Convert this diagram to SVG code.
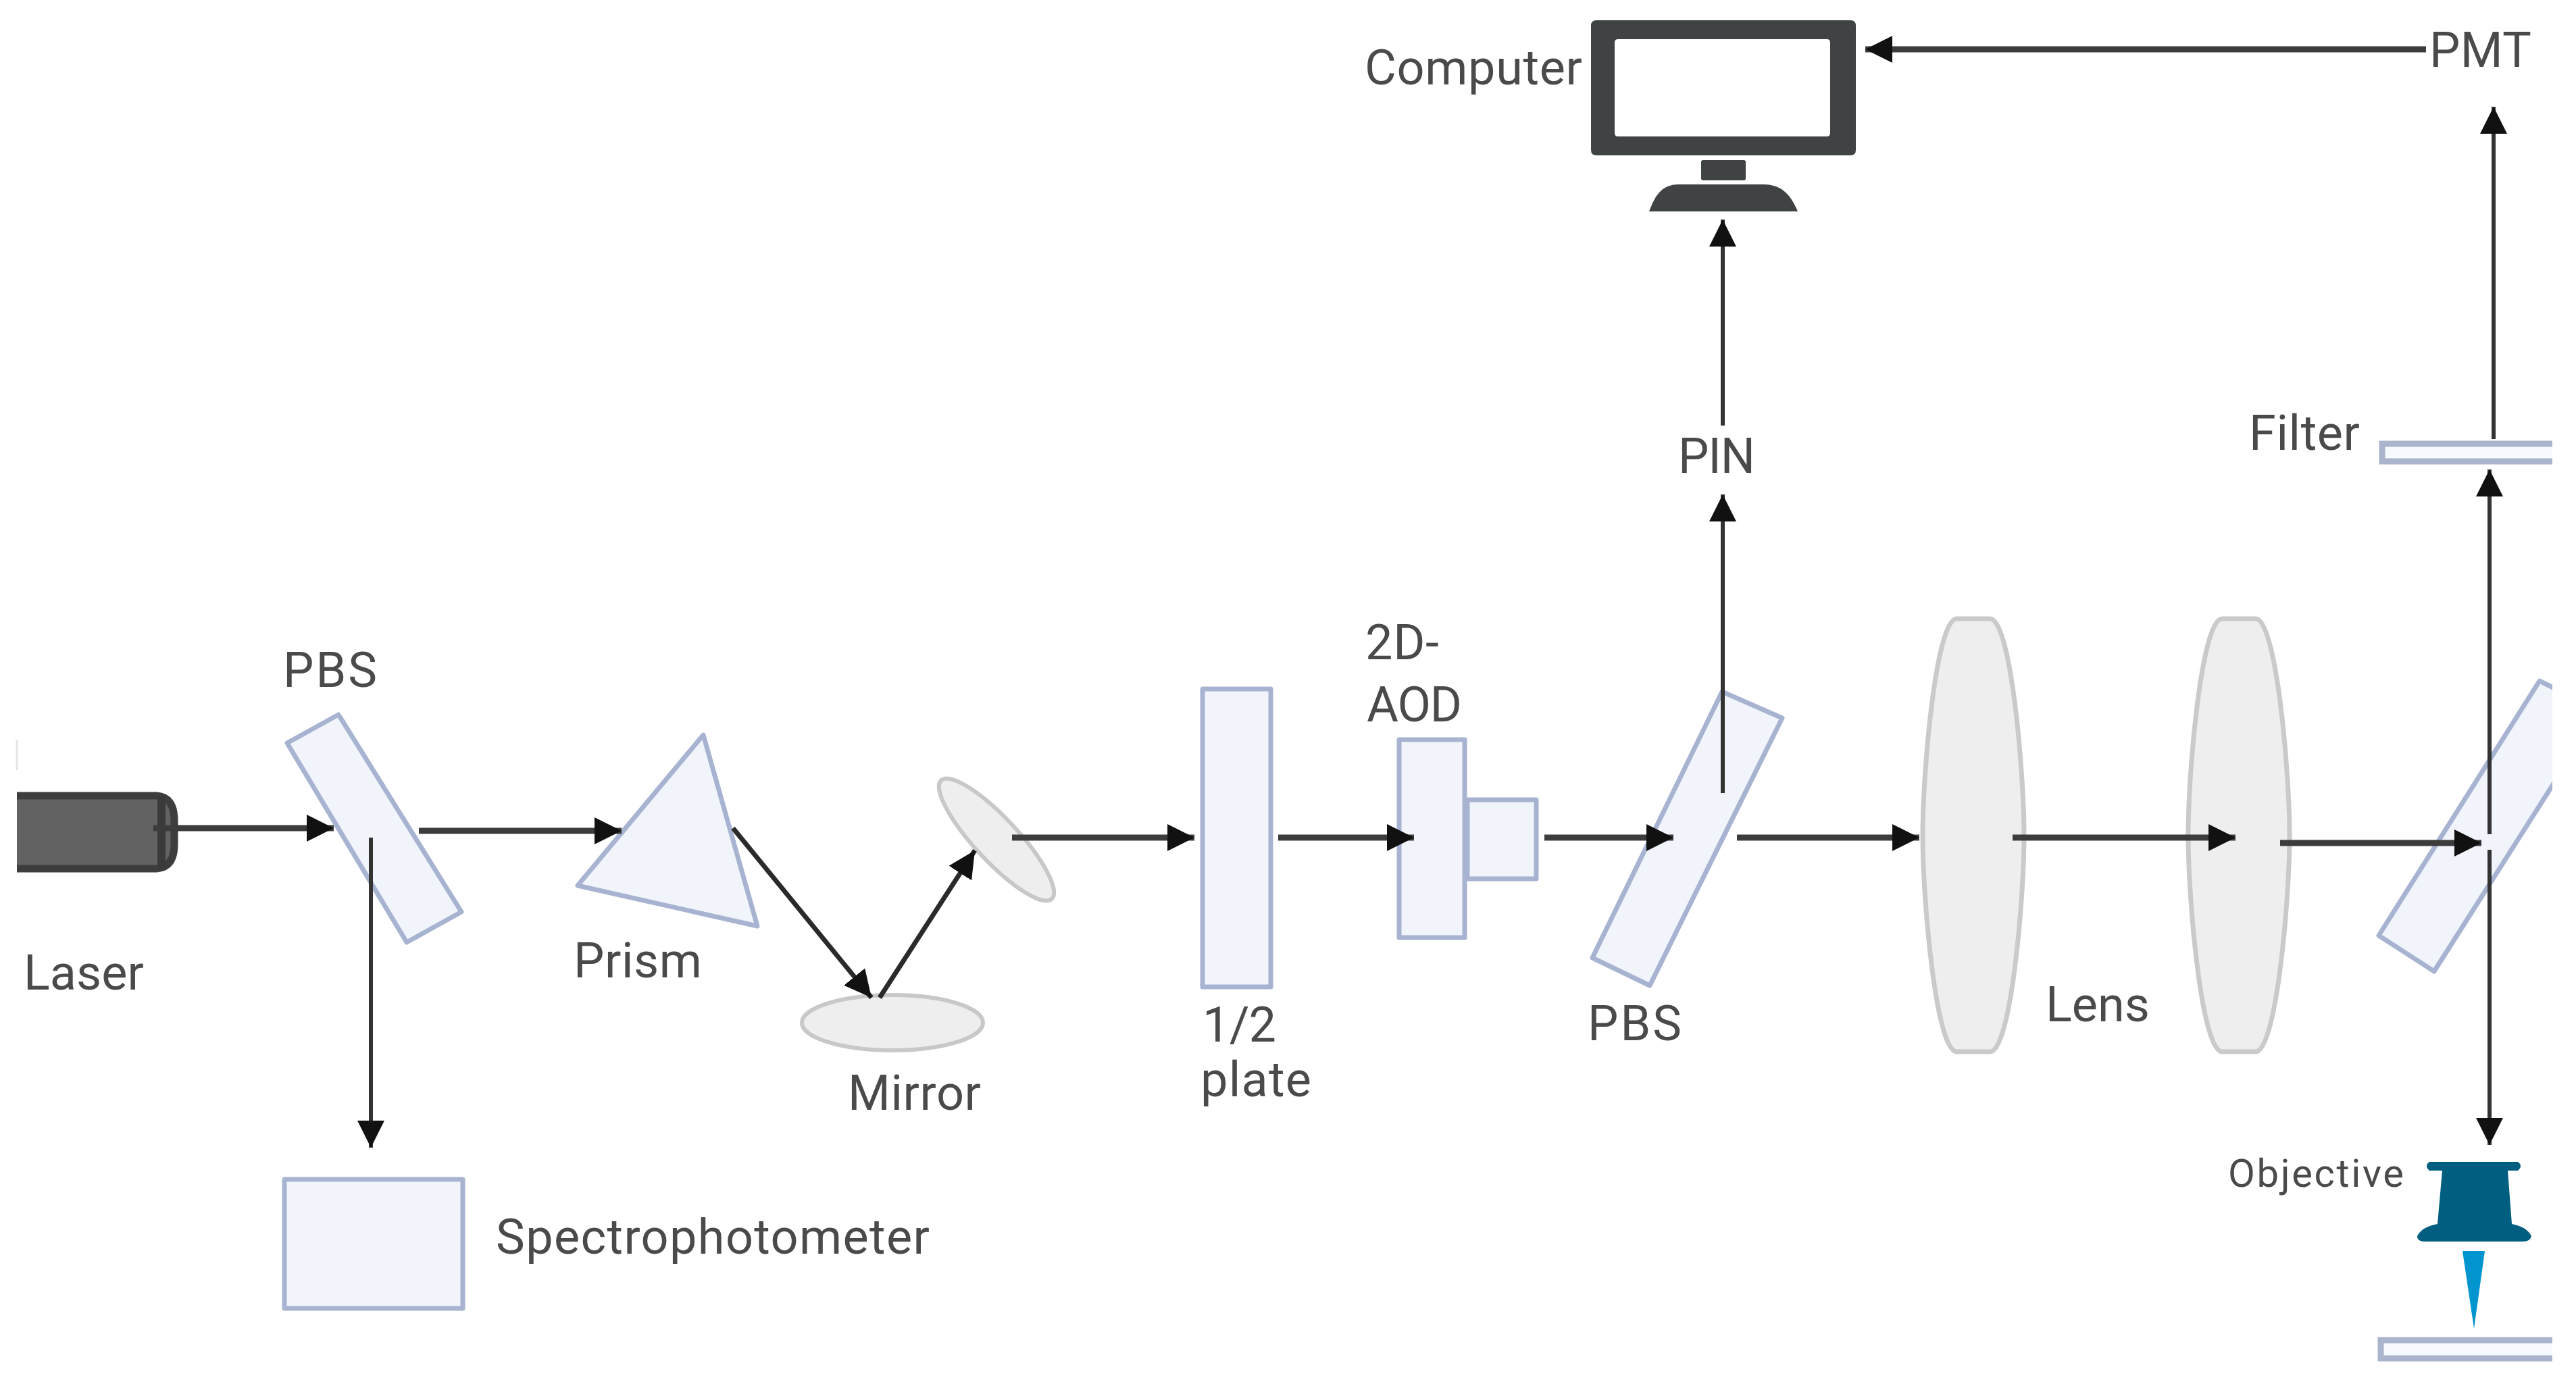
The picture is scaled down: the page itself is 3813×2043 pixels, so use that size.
<svg xmlns="http://www.w3.org/2000/svg" width="3813" height="2043" viewBox="0 0 3813 2043">
<defs>
<style>
.opt{fill:#f1f5fb;stroke:#a7b3d1;stroke-width:7;stroke-linejoin:round}
.bar{fill:#f6f9fe;stroke:#aab4cd;stroke-width:9}
.lens{fill:#eeeeee;stroke:#cacaca;stroke-width:7}
.mir{fill:#eeeeee;stroke:#c8c8c8;stroke-width:6}
.dark{fill:#3f4344}
.t{font-family:Roboto,"Liberation Sans",sans-serif;font-size:72px;fill:#4a4a4a}
.a{stroke:#3c3c3c;stroke-width:9;fill:none;marker-end:url(#ah)}
.v{stroke:#333;stroke-width:6;fill:none;marker-end:url(#ah)}
.s{stroke:#2a2a2a;stroke-width:7;fill:none;marker-end:url(#ah)}
</style>
<marker id="ah" markerUnits="userSpaceOnUse" markerWidth="44" markerHeight="44" refX="40" refY="20" orient="auto" viewBox="0 0 44 44"><path d="M0,0L40,20L0,40Z" fill="#111"/></marker>
<clipPath id="edge"><rect x="0" y="0" width="3778" height="2043"/></clipPath>
<clipPath id="ledge"><rect x="25" y="0" width="400" height="2043"/></clipPath>
</defs>
<rect width="3813" height="2043" fill="#fff"/>
<g id="laser"><path d="M25,1095V1140" stroke="#e4e4e4" stroke-width="3" fill="none"/><g clip-path="url(#ledge)"><path d="M10,1178H232Q258,1180 258,1215V1250Q258,1284 232,1286H10Z" fill="#626262" stroke="#3d3d3d" stroke-width="11"/></g><path d="M239,1178V1286" stroke="#3a3a3a" stroke-width="12" fill="none"/><text class="t" x="35" y="1465" textLength="178">Laser</text></g>
<g id="pbs1"><polygon class="opt" points="501,1058 425,1100 602,1395 683,1350"/><text class="t" x="419" y="1017" textLength="139">PBS</text></g>
<g id="prism"><polygon class="opt" points="1041,1088 855,1311 1121,1371"/><text class="t" x="849" y="1447" textLength="190">Prism</text></g>
<g id="mirror1"><ellipse class="mir" cx="1321" cy="1514" rx="134" ry="41"/><text class="t" x="1255" y="1643" textLength="197">Mirror</text></g>
<g id="mirror2"><ellipse class="mir" cx="1475" cy="1243" rx="120" ry="32" transform="rotate(47 1475 1243)"/></g>
<g id="plate"><rect class="opt" x="1780" y="1020" width="101" height="441"/><text class="t" x="1780" y="1542" textLength="109">1/2</text><text class="t" x="1777" y="1623" textLength="164">plate</text></g>
<g id="aod"><rect class="opt" x="2071" y="1095" width="97" height="293"/><rect class="opt" x="2172" y="1184" width="102" height="117"/><text class="t" x="2021" y="976" textLength="109">2D-</text><text class="t" x="2023" y="1068" textLength="141">AOD</text></g>
<g id="pbs2"><polygon class="opt" points="2549,1024 2638,1063 2442,1459 2357,1418"/><text class="t" x="2350" y="1540" textLength="139">PBS</text></g>
<g id="lens1"><path class="lens" d="M2896,916H2946C2976,916 2996,1140 2996,1237C2996,1334 2976,1557 2946,1557H2896C2866,1557 2846,1334 2846,1237C2846,1140 2866,916 2896,916Z"/><text class="t" x="3028" y="1512" textLength="154">Lens</text></g>
<g id="lens2"><path class="lens" d="M3289,916H3339C3369,916 3389,1140 3389,1237C3389,1334 3369,1557 3339,1557H3289C3259,1557 3239,1334 3239,1237C3239,1140 3259,916 3289,916Z"/></g>
<g id="pbs3"><g clip-path="url(#edge)"><polygon class="opt" points="3785,1021 3759,1008 3521,1385 3603,1438 3790,1144"/></g></g>
<g id="filter"><g clip-path="url(#edge)"><rect class="bar" x="3526" y="657" width="280" height="26"/></g><text class="t" x="3329" y="666" textLength="164">Filter</text></g>
<g id="pmt"><text class="t" x="3596" y="99" textLength="151">PMT</text></g>
<g id="pin"><text class="t" x="2484" y="700" textLength="114">PIN</text></g>
<g id="computer"><path class="dark" fill-rule="evenodd" d="M2363,30H2739Q2747,30 2747,38V222Q2747,230 2739,230H2363Q2355,230 2355,222V38Q2355,30 2363,30ZM2395,58Q2390,58 2390,63V197Q2390,202 2395,202H2704Q2709,202 2709,197V63Q2709,58 2704,58Z"/><rect class="dark" x="2518" y="237" width="66" height="30" rx="3"/><path class="dark" d="M2441,313C2449,292 2458,273 2485,273H2610C2640,273 2652,292 2661,313Z"/><text class="t" x="2020" y="125" textLength="322">Computer</text></g>
<g id="spectro"><rect class="opt" x="421" y="1746" width="264" height="191"/><text class="t" x="734" y="1856" textLength="642">Spectrophotometer</text></g>
<g id="objective"><path fill="#005f80" d="M3596,1720H3727Q3735,1726 3727,1733H3712L3718,1812Q3740,1816 3747,1830Q3745,1838 3735,1838H3590Q3578,1838 3578,1830Q3585,1816 3608,1812L3615,1733H3596Q3588,1726 3596,1720Z"/><polygon fill="#0095cf" points="3645,1852 3678,1852 3662,1967"/><g clip-path="url(#edge)"><rect class="bar" x="3524" y="1984" width="280" height="27"/></g><text class="t" style="font-size:58px" x="3298" y="1757" textLength="260">Objective</text></g>
<g id="connectors">
<path class="a" d="M227,1226H494"/>
<path class="v" d="M549,1240V1699"/>
<path class="a" d="M620,1230H920"/>
<path class="s" d="M1085,1226L1290,1477"/>
<path class="s" d="M1302,1477L1443,1259"/>
<path class="a" d="M1498,1240H1768"/>
<path class="a" d="M1892,1240H2093"/>
<path class="a" d="M2286,1240H2477"/>
<path class="v" d="M2550,1174V732"/>
<path class="v" d="M2550,630V325"/>
<path class="a" d="M2571,1240H2841"/>
<path class="a" d="M2979,1240H3309"/>
<path class="a" d="M3375,1248H3673"/>
<path class="v" d="M3685,1235V695"/>
<path class="v" d="M3685,1258V1695"/>
<path class="v" d="M3691,650V158"/>
<path class="a" d="M3591,73H2761"/>
</g>
</svg>
